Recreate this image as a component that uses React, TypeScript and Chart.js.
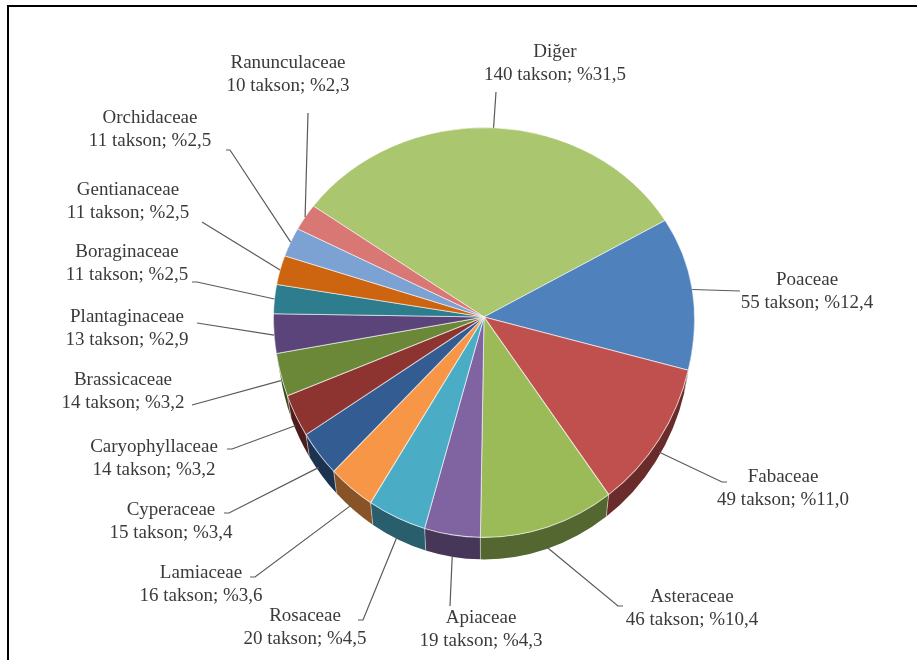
import React, { useEffect, useRef } from "react";
import { Chart, registerables } from "chart.js";

Chart.register(...registerables);

// Plant families (clockwise from the top slice) and their taxon counts
const families = [
  "Diğer",
  "Poaceae",
  "Fabaceae",
  "Asteraceae",
  "Apiaceae",
  "Rosaceae",
  "Lamiaceae",
  "Cyperaceae",
  "Caryophyllaceae",
  "Brassicaceae",
  "Plantaginaceae",
  "Boraginaceae",
  "Gentianaceae",
  "Orchidaceae",
  "Ranunculaceae",
];
const taxonCounts = [140, 55, 49, 46, 19, 20, 16, 15, 14, 14, 13, 11, 11, 11, 10];

// Slice fill colours
const sliceColors = [
  "#AAC66E",
  "#4F81BD",
  "#C0504D",
  "#9BBB59",
  "#8064A2",
  "#4BACC6",
  "#F79646",
  "#335C92",
  "#8D3330",
  "#6A8838",
  "#5A4479",
  "#2E7D8F",
  "#CC6410",
  "#7CA1D3",
  "#D87774",
];

// Label placement: centre x, first-line y, leader attach point, hook length
const labelLayout = [
  { x: 555, y: 52, ax: 496, ay: 92, hook: 0 },
  { x: 807, y: 280, ax: 740, ay: 291, hook: 0 },
  { x: 783, y: 477, ax: 722, ay: 482, hook: 5 },
  { x: 692, y: 597, ax: 618, ay: 606, hook: 5 },
  { x: 481, y: 618, ax: 450, ay: 606, hook: 0 },
  { x: 305, y: 616, ax: 363, ay: 620, hook: -5 },
  { x: 201, y: 573, ax: 255, ay: 577, hook: -5 },
  { x: 171, y: 510, ax: 229, ay: 513, hook: -5 },
  { x: 154, y: 447, ax: 232, ay: 449, hook: -5 },
  { x: 123, y: 380, ax: 192, ay: 405, hook: 0 },
  { x: 127, y: 317, ax: 197, ay: 323, hook: 0 },
  { x: 127, y: 252, ax: 197, ay: 282, hook: -5 },
  { x: 128, y: 190, ax: 202, ay: 222, hook: 0 },
  { x: 150, y: 118, ax: 230, ay: 150, hook: -4 },
  { x: 288, y: 63, ax: 308, ay: 113, hook: 0 },
];

// Tilted-pie look: vertical squash above / stretch below the apex,
// wall height and how much the base ellipse narrows in perspective
const TILT_UP = 0.9;
const TILT_DOWN = 1.047;
const DEPTH = 22;
const BASE_INSET = 4;
const LINE_GAP = 23;
const FONT = '19px "Liberation Serif", "Times New Roman", serif';
const TEXT_COLOR = "#3a3a3a";
const LEADER_COLOR = "#5a5a5a";

function darken(hex: string, f: number) {
  const n = parseInt(hex.slice(1), 16);
  const r = Math.round(((n >> 16) & 255) * f);
  const g = Math.round(((n >> 8) & 255) * f);
  const b = Math.round((n & 255) * f);
  return `rgb(${r},${g},${b})`;
}

const sideColors = sliceColors.map((c) => darken(c, 0.55));

const tiltedPie = {
  id: "tiltedPie",
  beforeDatasetsDraw(chart: any) {
    const ctx: CanvasRenderingContext2D = chart.ctx;
    const arcs = chart.getDatasetMeta(0).data as any[];
    if (!arcs.length) return;
    const cx = arcs[0].x;
    const cy = arcs[0].y;
    const r = arcs[0].outerRadius;
    const ry = r * TILT_DOWN;
    const rb = r - BASE_INSET;

    // outer wall of the front half (the top face covers what is hidden)
    ctx.save();
    arcs.forEach((arc, i) => {
      const s = Math.max(arc.startAngle, 0);
      const e = Math.min(arc.endAngle, Math.PI);
      if (e <= s) return;
      ctx.beginPath();
      ctx.ellipse(cx, cy, r, ry, 0, s, e);
      ctx.ellipse(cx, cy + DEPTH, rb, ry, 0, e, s, true);
      ctx.closePath();
      ctx.fillStyle = sideColors[i];
      ctx.fill();
    });
    // seams between wall pieces
    ctx.strokeStyle = "rgba(255,255,255,0.45)";
    ctx.lineWidth = 1;
    arcs.forEach((arc) => {
      const b = arc.endAngle;
      if (b <= 0 || b >= Math.PI) return;
      ctx.beginPath();
      ctx.moveTo(cx + r * Math.cos(b), cy + ry * Math.sin(b));
      ctx.lineTo(cx + rb * Math.cos(b), cy + DEPTH + ry * Math.sin(b));
      ctx.stroke();
    });
    ctx.restore();

    // top face, drawn in two halves around the apex
    const halves: [number, number, number][] = [
      [cy - 2 * r, cy + 1, TILT_UP],
      [cy, cy + 2 * r, TILT_DOWN],
    ];
    halves.forEach(([y0, y1, k]) => {
      ctx.save();
      ctx.beginPath();
      ctx.rect(0, y0, chart.width, y1 - y0);
      ctx.clip();
      ctx.translate(0, cy);
      ctx.scale(1, k);
      ctx.translate(0, -cy);
      arcs.forEach((a) => a.draw(ctx));
      ctx.restore();
    });
    return false;
  },
  afterDraw(chart: any) {
    const ctx: CanvasRenderingContext2D = chart.ctx;
    const arcs = chart.getDatasetMeta(0).data as any[];
    const total = taxonCounts.reduce((a, b) => a + b, 0);
    ctx.save();
    arcs.forEach((arc, i) => {
      const r = arc.outerRadius;
      const m = (arc.startAngle + arc.endAngle) / 2;
      const sn = Math.sin(m);
      const k = sn < 0 ? TILT_UP : TILT_DOWN;
      const px = arc.x + r * Math.cos(m);
      const py = arc.y + r * k * sn + (sn > 0 ? DEPTH * sn : 0);
      const L = labelLayout[i];

      ctx.strokeStyle = LEADER_COLOR;
      ctx.lineWidth = 1.2;
      ctx.beginPath();
      ctx.moveTo(px, py);
      ctx.lineTo(L.ax, L.ay);
      if (L.hook) ctx.lineTo(L.ax + L.hook, L.ay);
      ctx.stroke();

      const pct = ((taxonCounts[i] / total) * 100).toFixed(1).replace(".", ",");
      ctx.fillStyle = TEXT_COLOR;
      ctx.font = FONT;
      ctx.textAlign = "center";
      ctx.textBaseline = "middle";
      ctx.fillText(families[i], L.x, L.y);
      ctx.fillText(`${taxonCounts[i]} takson; %${pct}`, L.x, L.y + LINE_GAP);
    });

    // frame
    ctx.fillStyle = "#000";
    ctx.fillRect(7, 5, 2, chart.height);
    ctx.fillRect(7, 5, chart.width, 2);
    ctx.restore();
  },
};

export default function App() {
  const canvasRef = useRef<HTMLCanvasElement | null>(null);

  useEffect(() => {
    const canvas = canvasRef.current;
    if (!canvas) return;
    const chart = new Chart(canvas, {
      type: "pie",
      data: {
        labels: families,
        datasets: [
          {
            data: taxonCounts,
            backgroundColor: sliceColors,
            borderColor: "rgba(255,255,255,0.6)",
            borderWidth: 1,
            hoverOffset: 0,
            offset: 0,
          },
        ],
      },
      options: {
        responsive: false,
        maintainAspectRatio: false,
        animation: false,
        events: [],
        rotation: -54.15,
        layout: { padding: { left: 273, right: 222, top: 106, bottom: 132 } },
        plugins: {
          legend: { display: false },
          tooltip: { enabled: false },
        },
      },
      plugins: [tiltedPie],
    });
    return () => chart.destroy();
  }, []);

  return (
    <div
      style={{
        position: "fixed",
        left: 0,
        top: 0,
        width: 917,
        height: 660,
        background: "#fff",
      }}
    >
      <canvas ref={canvasRef} width={917} height={660} style={{ display: "block" }} />
    </div>
  );
}
